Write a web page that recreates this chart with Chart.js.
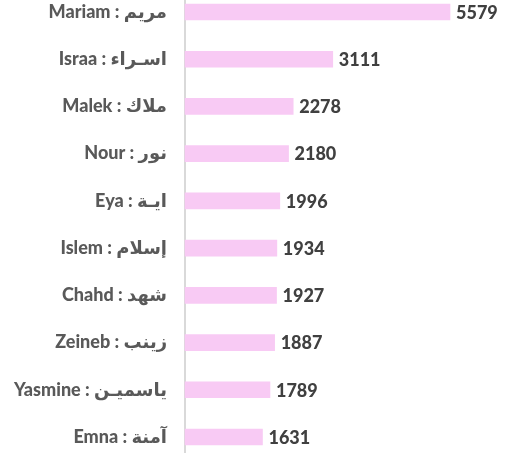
<!DOCTYPE html>
<html>
<head>
<meta charset="utf-8">
<script src="https://cdn.jsdelivr.net/npm/chart.js@4"></script>
<style>
  html, body { margin: 0; padding: 0; background: #fff; }
  #wrap { width: 519px; height: 453px; }
</style>
</head>
<body>
<div id="wrap"><canvas id="myChart"></canvas></div>
<script>
// Names (latin first so the line reads like the original when drawn left to right)
const names = [
    'Mariam : مريم',
    'Israa : اسـراء',
    'Malek : ملاك',
    'Nour : نور',
    'Eya : ايـة',
    'Islem : إسلام',
    'Chahd : شهد',
    'Zeineb : زينب',
    'Yasmine : ياسميـن',
    'Emna : آمنة'
];
const counts = [5579, 3111, 2278, 2180, 1996, 1934, 1927, 1887, 1789, 1631];

const FONT = 'Lato, "DejaVu Sans", sans-serif';

// vertical axis line over the full height + the number after each bar
const barExtras = {
    id: 'barExtras',
    beforeDatasetsDraw(chart) {
        const ctx = chart.ctx;
        const x = chart.scales.y.right;
        ctx.save();
        ctx.strokeStyle = '#d9d9d9';
        ctx.lineWidth = 2;
        ctx.beginPath();
        ctx.moveTo(x, 0);
        ctx.lineTo(x, chart.height);
        ctx.stroke();
        ctx.restore();
    },
    afterDatasetsDraw(chart) {
        const ctx = chart.ctx;
        const meta = chart.getDatasetMeta(0);
        ctx.save();
        ctx.font = '900 18px ' + FONT;
        ctx.fillStyle = '#404040';
        ctx.textAlign = 'left';
        ctx.textBaseline = 'middle';
        meta.data.forEach((bar, i) => {
            ctx.fillText(String(counts[i]), bar.x + 6, bar.y + 1);
        });
        ctx.restore();
    }
};

const ctx = document.getElementById('myChart').getContext('2d');
new Chart(ctx, {
    type: 'bar',
    data: {
        labels: names,
        datasets: [{
            data: counts,
            backgroundColor: '#f8caf4',
            borderWidth: 0,
            barThickness: 16,
            clip: false
        }]
    },
    options: {
        indexAxis: 'y',
        responsive: true,
        maintainAspectRatio: false,
        animation: false,
        layout: {
            padding: { top: 12, bottom: 16, left: 0, right: 49 }
        },
        plugins: {
            legend: { display: false },
            tooltip: { enabled: false }
        },
        scales: {
            x: {
                display: false,
                min: 0,
                max: 6000
            },
            y: {
                offset: false,
                grid: { display: false, drawTicks: false },
                border: { display: false },
                ticks: {
                    color: '#595959',
                    padding: 18,
                    font: { family: FONT, size: 18, weight: 900 }
                },
                afterFit(scale) {
                    scale.width = 185;
                    // let the first and last rows sit close to the edges
                    scale.paddingTop = 0;
                    scale.paddingBottom = 0;
                }
            }
        }
    },
    plugins: [barExtras]
});
</script>
</body>
</html>
